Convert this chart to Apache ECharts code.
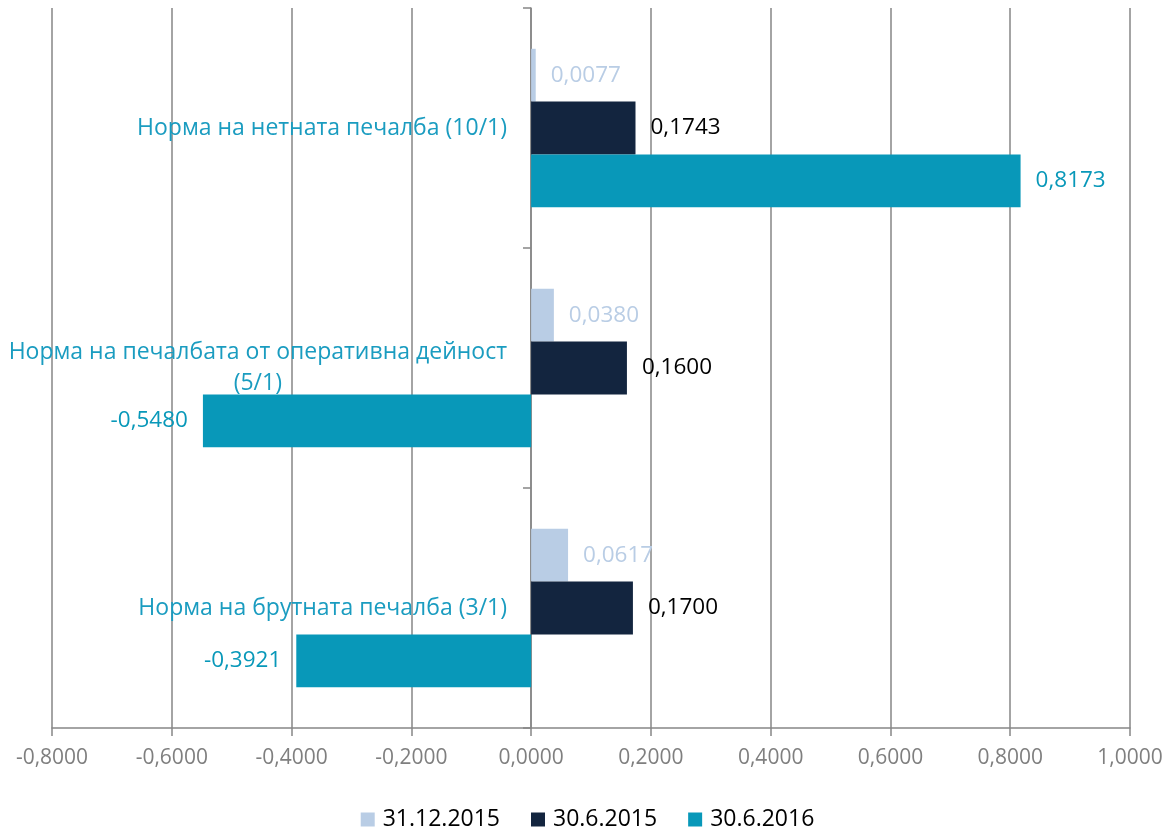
<!DOCTYPE html>
<html>
<head>
<meta charset="utf-8">
<script src="https://cdn.jsdelivr.net/npm/echarts@6/dist/echarts.min.js"></script>
<style>
  html, body { margin: 0; padding: 0; background: #fff; }
  #chart { width: 1175px; height: 832px; }
</style>
</head>
<body>
<div id="chart"></div>
<script>
// категории отдолу нагоре (както в Excel)
const categories = [
  'Норма на брутната печалба (3/1)',
  'Норма на печалбата от оперативна дейност (5/1)',
  'Норма на нетната печалба (10/1)'
]
const seriesNames = ['31.12.2015', '30.6.2015', '30.6.2016']
const values2015Dec = [0.0617, 0.0380, 0.0077]
const values2015Jun = [0.1700, 0.1600, 0.1743]
const values2016Jun = [-0.3921, -0.5480, 0.8173]
const xTicks = [-0.8, -0.6, -0.4, -0.2, 0, 0.2, 0.4, 0.6, 0.8, 1.0]

const colors = ['#b9cde5', '#13253f', '#0898b9']
const labelColors = ['#b9cde5', '#000000', '#0898b9']
const font = '"Open Sans", Lato, sans-serif'

const fmt = v => v.toFixed(4).replace('.', ',')

const chart = echarts.init(document.getElementById('chart'))

const dataSets = [values2015Dec, values2015Jun, values2016Jun]
const series = dataSets.map((vals, i) => ({
  name: seriesNames[i],
  type: 'bar',
  data: vals,
  barGap: '0%',
  barCategoryGap: '34%',
  itemStyle: { color: colors[i] },
  label: {
    show: true,
    position: 'right',
    distance: 15,
    formatter: p => fmt(p.value),
    color: labelColors[i],
    fontFamily: font,
    fontSize: 22.5
  }
}))
// отрицателните стойности – етикет отляво
series[2].data = values2016Jun.map(v => ({
  value: v,
  label: { position: v < 0 ? 'left' : 'right' }
}))

// нулата по X: 52 + 0.8 / 1.8 * 1078 = 531
const zeroOffset = -479

chart.setOption({
  animation: false,
  color: colors,
  grid: { left: 52, right: 45, top: 8, bottom: 104, containLabel: false, outerBoundsMode: 'none' },
  legend: {
    top: 803,
    left: 'center',
    itemWidth: 14,
    itemHeight: 14,
    itemGap: 31,
    icon: 'rect',
    textStyle: { fontFamily: font, fontSize: 23, color: '#000', padding: [0, 0, 0, 3] },
    data: seriesNames
  },
  xAxis: {
    type: 'value',
    min: -0.8,
    max: 1.0,
    interval: 0.2,
    axisLine: { show: true, lineStyle: { color: '#868686', width: 1.5 } },
    axisTick: { show: true, length: 8, lineStyle: { color: '#868686', width: 1.5 } },
    splitLine: { show: true, lineStyle: { color: '#868686', width: 1.5 } },
    axisLabel: {
      margin: 20,
      color: '#7f7f7f',
      fontFamily: font,
      fontSize: 21,
      formatter: v => {
        const t = xTicks.find(x => Math.abs(x - v) < 1e-9)
        return fmt(t === undefined ? v : t)
      }
    }
  },
  yAxis: {
    type: 'category',
    data: categories,
    offset: zeroOffset,
    axisLine: { show: true, onZero: false, lineStyle: { color: '#868686', width: 1.5 } },
    axisTick: { show: true, length: 8, lineStyle: { color: '#868686', width: 1.5 } },
    splitLine: { show: false },
    axisLabel: {
      margin: 24,
      color: '#1a9cc0',
      fontFamily: font,
      fontSize: 23,
      formatter: v => {
        if (v.indexOf('оперативна') > -1) {
          return '{a|Норма на печалбата от оперативна дейност}\n{b|(5/1)}'
        }
        return v
      },
      rich: {
        a: { color: '#1a9cc0', fontFamily: font, fontSize: 23, lineHeight: 31 },
        b: { color: '#1a9cc0', fontFamily: font, fontSize: 23, lineHeight: 31, width: 498, align: 'center' }
      }
    }
  },
  series: series
})
</script>
</body>
</html>
